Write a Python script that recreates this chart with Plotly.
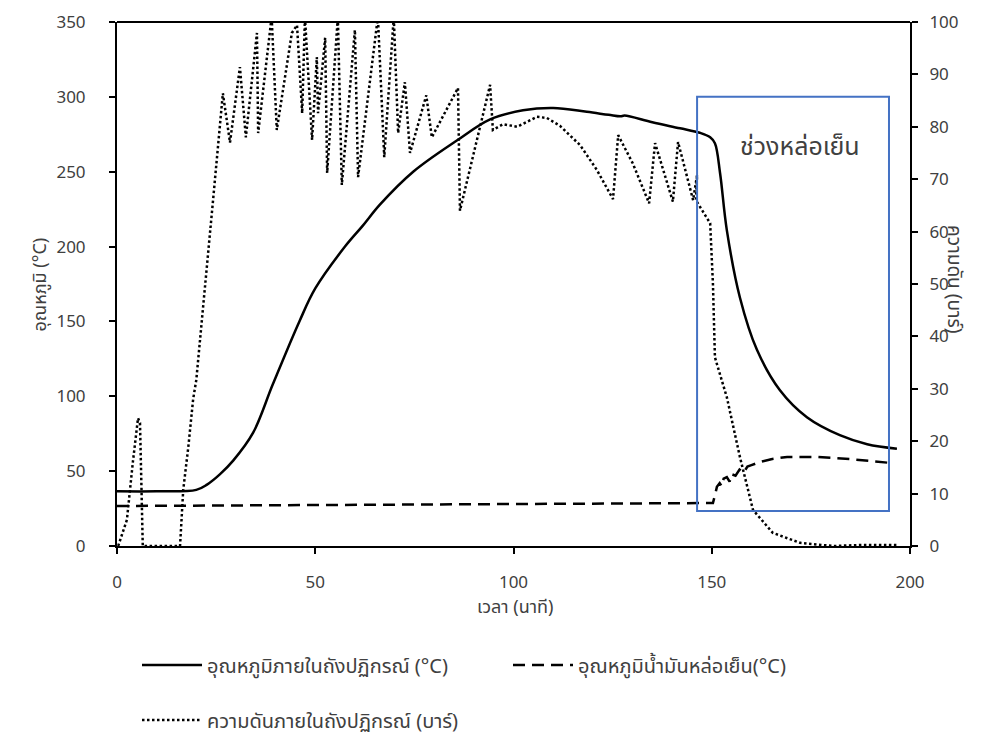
import plotly.graph_objects as go

# Reactor temperature (°C), left axis
t_reactor = [0, 10, 20, 22.7, 26, 29.3, 34.3, 39.3, 46, 50, 57.5, 62, 66.3, 74.7, 85.8, 94.1,
             102.4, 110, 118.5, 124, 127, 128, 135, 142, 147, 149.6, 150.8, 152.1, 153.8,
             157.1, 161.4, 167.2, 174, 182.3, 189.2, 196.7]
temp_reactor = [36.5, 36.5, 37.5, 41, 48, 57, 75.5, 108, 150, 172, 200, 214, 228, 250, 271, 285,
                291, 292.6, 290, 288, 287, 287.5, 283, 279, 276, 273, 269, 249, 211,
                166, 131, 104, 86, 74, 68, 65]

# Cooling oil temperature (°C), left axis
t_oil = [0, 50, 100, 148, 150.3, 151.0, 151.3, 152, 152.5, 153, 153.8, 154.5, 155, 156, 157,
         158, 159, 160, 162, 165, 169, 176.5, 185, 195]
temp_oil = [26.7, 27.5, 28.2, 28.7, 28.7, 36, 39.5, 42, 40, 45, 46, 43, 48, 47, 51,
            49, 53, 54, 56, 58, 59.5, 59.5, 58, 55.5]

# Reactor pressure (bar), right axis
t_press = [0.3, 2.5, 4, 5.3, 5.8, 6.3, 6.5, 10, 15.9, 16.7, 18, 19.2, 20, 24.3, 26.7, 28.5, 31,
           32.5, 35.3, 35.6, 39, 40.3, 44.1, 45.4, 46.7, 47.4, 49.2, 50.4, 50.7, 52.5, 53,
           55.7, 56.7, 60, 60.8, 65.8, 67.4, 69.8, 70.9, 72.6, 73.9, 78.0, 79.4, 86, 86.5,
           94.1, 94.8, 97.4, 100.9, 105.9, 108.4, 111.7, 116.8, 121, 125.1, 126.4, 130.1,
           134.2, 135.7, 140.2, 141.5, 145.3, 146.3, 146.0, 149.6, 150.3, 150.8, 153.8,
           157.1, 160.4, 165.4, 172.3, 180.6, 188, 196.7]
pressure = [0, 5, 16, 24.4, 23.5, 7.5, 0, 0, 0, 10.7, 19, 28, 31.7, 66.6, 86.4, 77, 91.4,
            78, 97.9, 78.8, 101, 79.4, 97.9, 99.4, 82.6, 101, 77.5, 93.3, 82.6, 97, 71.2,
            101, 68.9, 98.5, 70.4, 101, 74.2, 101, 78.8, 88.5, 75, 86, 78, 87.4, 64,
            88, 79.4, 80.5, 80, 81.9, 81.7, 80.2, 76.5, 71.8, 66.2, 78.4, 73,
            65.4, 76.9, 65.7, 77.1, 66, 70.8, 66, 61.6, 50, 36, 28.4,
            17, 6.9, 2.5, 0.6, 0, 0.2, 0.2]

left_ticks = [0, 50, 100, 150, 200, 250, 300, 350]
right_ticks = [0, 10, 20, 30, 40, 50, 60, 70, 80, 90, 100]
x_ticks = [0, 50, 100, 150, 200]

FONT = "Noto Sans, Noto Sans Thai, DejaVu Sans, sans-serif"
TXT = "#404040"

fig = go.Figure()
fig.add_trace(go.Scatter(x=t_reactor, y=temp_reactor, mode="lines",
                         name="อุณหภูมิภายในถังปฏิกรณ์ (°C)",
                         line=dict(color="black", width=2.5), line_shape="spline",
                         legend="legend"))
fig.add_trace(go.Scatter(x=t_oil, y=temp_oil, mode="lines",
                         name="อุณหภูมิน้ำมันหล่อเย็น(°C)",
                         line=dict(color="black", width=2.5, dash="12px,7px"),
                         legend="legend3"))
fig.add_trace(go.Scatter(x=t_press, y=pressure, mode="lines", yaxis="y2",
                         name="ความดันภายในถังปฏิกรณ์ (บาร์)",
                         line=dict(color="black", width=2.5, dash="2.5px,2.5px"),
                         legend="legend2"))

# Cooling period box
fig.add_shape(type="rect", xref="x", yref="y", x0=146.3, x1=194.7, y0=23.4, y1=300,
              line=dict(color="#4472C4", width=2), fillcolor="rgba(0,0,0,0)")
fig.add_annotation(x=172.3, y=268, xref="x", yref="y", text="ช่วงหล่อเย็น",
                   showarrow=False, font=dict(size=25, color=TXT, family=FONT))

# Axis titles
fig.add_annotation(x=(970 - 117) / 793, y=(546 - 280) / 524, xref="paper", yref="paper",
                   text="ความดัน (บาร์)", textangle=90, showarrow=False,
                   font=dict(size=19, color=TXT, family=FONT))
fig.add_annotation(x=(24 - 117) / 793, y=(546 - 285) / 524, xref="paper", yref="paper",
                   text="อุณหภูมิ (°C)", textangle=-90, showarrow=False,
                   font=dict(size=18, color=TXT, family=FONT))
fig.add_annotation(x=(515 - 117) / 793, y=(546 - 620) / 524, xref="paper", yref="paper",
                   text="เวลา (นาที)", showarrow=False,
                   font=dict(size=18, color=TXT, family=FONT))

common_axis = dict(showline=True, linecolor="black", linewidth=2, ticks="outside",
                   ticklen=6, tickcolor="black", tickwidth=1.5, showgrid=False,
                   zeroline=False, automargin=False)

leg_common = dict(orientation="h", xanchor="left", yanchor="middle", itemwidth=60,
                  font=dict(size=20, color=TXT), bgcolor="rgba(0,0,0,0)")

fig.update_layout(
    width=1006, height=738,
    margin=dict(l=117, r=96, t=22, b=192, autoexpand=False),
    plot_bgcolor="white", paper_bgcolor="white",
    font=dict(family=FONT, size=17, color=TXT),
    xaxis=dict(range=[0, 200], tickvals=x_ticks, ticklabelstandoff=14,
               tickfont=dict(size=17, color=TXT), **common_axis),
    yaxis=dict(range=[0, 350], tickvals=left_ticks, ticklabelstandoff=20,
               tickfont=dict(size=17, color=TXT), **common_axis),
    yaxis2=dict(range=[0, 100], tickvals=right_ticks, overlaying="y", side="right",
                ticklabelstandoff=8, tickfont=dict(size=17, color=TXT), **common_axis),
    legend=dict(x=(137 - 117) / 793, y=(546 - 665) / 524, **leg_common),
    legend3=dict(x=(508 - 117) / 793, y=(546 - 665) / 524, **leg_common),
    legend2=dict(x=(137 - 117) / 793, y=(546 - 720) / 524, **leg_common),
    showlegend=True,
)
# top border line
fig.add_shape(type="line", xref="paper", yref="paper", x0=0, x1=1, y0=1, y1=1,
              line=dict(color="black", width=2))

fig.write_html("out.html")
